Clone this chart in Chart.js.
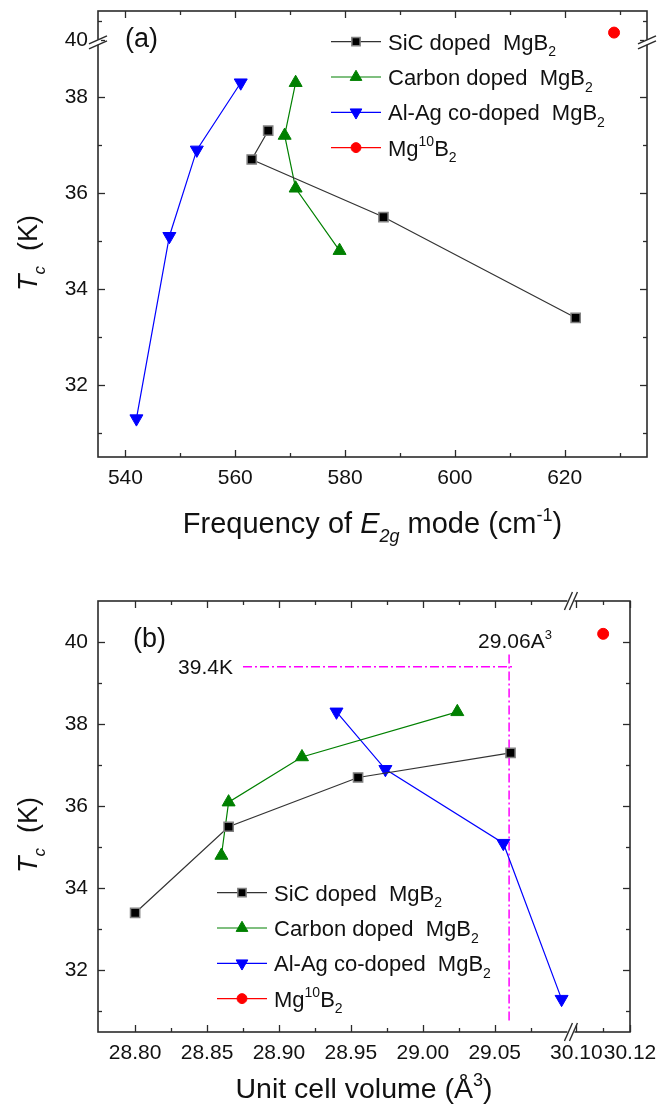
<!DOCTYPE html>
<html>
<head>
<meta charset="utf-8">
<script src="https://cdn.jsdelivr.net/npm/chart.js@4.4.1/dist/chart.umd.min.js"></script>
<style>
  html, body { margin: 0; padding: 0; background: #fff; }
  canvas { display: block; }
</style>
</head>
<body>
<canvas id="panelA" width="669" height="560"></canvas>
<canvas id="panelB" width="669" height="547"></canvas>
<script>
// Tc (K) of each sample, shared by both panels
const sicTc = [37.3, 36.7, 35.5, 33.4];
const carbonTc = [38.3, 37.2, 36.1, 34.8];
const alagTc = [38.3, 36.9, 35.1, 31.3];
const mg10Tc = [40.2];

// E2g mode frequency (cm-1)
const sicFreq = [566, 563, 587, 622];
const carbonFreq = [571, 569, 571, 579];
const alagFreq = [561, 553, 548, 542];
const mg10Freq = [629];

// unit cell volume (A^3)
const sicVol = [29.061, 28.955, 28.865, 28.800];
const carbonVol = [29.024, 28.916, 28.865, 28.860];
const alagVol = [28.940, 28.974, 29.056, 29.0965];
const mg10Vol = [30.11];

// dash-dot guides in (b)
const guideTc = 39.4;
const guideVol = 29.06;
const guideVolSpan = [28.875, 29.063];
const guideTcSpan = [30.78, 39.76];

// tick values
const freqTicks = [540, 560, 580, 600, 620];
const freqMinor = [550, 570, 590, 610, 630];
const tcTicksA = [32, 34, 36, 38, 40];
const tcMinorA = [31, 33, 35, 37, 40.5];
const volTicks = [28.80, 28.85, 28.90, 28.95, 29.00, 29.05, 30.10, 30.12];
const volMinor = [28.825, 28.875, 28.925, 28.975, 29.025, 29.075, 30.11];
const tcTicksB = [32, 34, 36, 38, 40];
const tcMinorB = [31, 33, 35, 37, 39];

const FONT = '"Liberation Sans", Arial, sans-serif';
const INK = '#111';
const FRAME = '#2b2b2b';

const series = [
  { name: [{ t: 'SiC doped  MgB' }, { t: '2', sub: 1 }], tc: sicTc,
    line: '#333', fill: '#000', edge: '#808080', edgeW: 1.5, shape: 'rect', rot: 0, r: 6.5 },
  { name: [{ t: 'Carbon doped  MgB' }, { t: '2', sub: 1 }], tc: carbonTc,
    line: '#008000', fill: '#008000', edge: '#008000', edgeW: 1, shape: 'triangle', rot: 0, r: 7.5 },
  { name: [{ t: 'Al-Ag co-doped  MgB' }, { t: '2', sub: 1 }], tc: alagTc,
    line: '#0000ff', fill: '#0000ff', edge: '#0000ff', edgeW: 1, shape: 'triangle', rot: 180, r: 7.5 },
  { name: [{ t: 'Mg' }, { t: '10', sup: 1 }, { t: 'B' }, { t: '2', sub: 1 }], tc: mg10Tc,
    line: '#ff0000', fill: '#ff0000', edge: '#ff0000', edgeW: 1, shape: 'circle', rot: 0, r: 5.5 }
];

// linear scale with one gap ("//") in it
class BrokenScale extends Chart.LinearScale {
  frac(v) {
    const o = this.options;
    if (v <= o.breakLow) return (v - this.min) / (o.breakLow - this.min) * o.splitLow;
    if (v >= o.breakHigh) return o.splitHigh + (v - o.breakHigh) / (this.max - o.breakHigh) * (1 - o.splitHigh);
    return (o.splitLow + o.splitHigh) / 2;
  }
  getPixelForValue(v) {
    const f = this.frac(v);
    return this.isHorizontal() ? this.left + f * this.width : this.bottom - f * this.height;
  }
  getValueForPixel(p) {
    const o = this.options;
    const f = this.isHorizontal() ? (p - this.left) / this.width : (this.bottom - p) / this.height;
    if (f <= o.splitLow) return this.min + f / o.splitLow * (o.breakLow - this.min);
    return o.breakHigh + (f - o.splitHigh) / (1 - o.splitHigh) * (this.max - o.breakHigh);
  }
  breakPixel() {
    const o = this.options;
    const f = (o.splitLow + o.splitHigh) / 2;
    return this.isHorizontal() ? this.left + f * this.width : this.bottom - f * this.height;
  }
}
BrokenScale.id = 'broken';
BrokenScale.defaults = Chart.LinearScale.defaults;
Chart.register(BrokenScale);

function fontFor(p, size) {
  const s = (p.sub || p.sup) ? Math.round(size * 0.62) : size;
  return (p.i ? 'italic ' : '') + s + 'px ' + FONT;
}

// text with sub/superscripts, y is the baseline
function drawRich(ctx, parts, x, y, size, align) {
  let total = 0;
  parts.forEach(p => { ctx.font = fontFor(p, size); total += ctx.measureText(p.t).width; });
  let cx = align === 'center' ? x - total / 2 : align === 'right' ? x - total : x;
  ctx.textAlign = 'left';
  ctx.textBaseline = 'alphabetic';
  parts.forEach(p => {
    ctx.font = fontFor(p, size);
    const dy = p.sub ? size * 0.3 : p.sup ? -size * 0.42 : 0;
    ctx.fillText(p.t, cx, y + dy);
    cx += ctx.measureText(p.t).width;
  });
}

function line(ctx, x1, y1, x2, y2) {
  ctx.beginPath(); ctx.moveTo(x1, y1); ctx.lineTo(x2, y2); ctx.stroke();
}

function drawTicks(ctx, scale, values, len, a) {
  values.forEach(v => {
    const p = Math.round(scale.getPixelForValue(v)) + 0.5;
    if (scale.isHorizontal()) {
      line(ctx, p, a.bottom, p, a.bottom - len);
      line(ctx, p, a.top, p, a.top + len);
    } else {
      line(ctx, a.left, p, a.left + len, p);
      line(ctx, a.right, p, a.right - len, p);
    }
  });
}

// "//" marks where an axis is broken
function drawBreak(ctx, x, y, vertical) {
  const g = 5;
  ctx.save();
  ctx.fillStyle = '#fff';
  if (vertical) {
    ctx.fillRect(x - 3, y - g / 2, 6, g);
    line(ctx, x - 9, y + g / 2 + 4, x + 9, y + g / 2 - 4);
    line(ctx, x - 9, y - g / 2 + 4, x + 9, y - g / 2 - 4);
  } else {
    ctx.fillRect(x - g / 2 - 1, y - 3, g + 2, 6);
    line(ctx, x - g / 2 - 4, y + 9, x - g / 2 + 4, y - 9);
    line(ctx, x + g / 2 - 4, y + 9, x + g / 2 + 4, y - 9);
  }
  ctx.restore();
}

function drawLegend(ctx, x0, y0, step) {
  series.forEach((s, k) => {
    const y = y0 + k * step;
    ctx.strokeStyle = s.line;
    ctx.lineWidth = 1.2;
    line(ctx, x0, y, x0 + 50, y);
    ctx.fillStyle = s.fill;
    ctx.strokeStyle = s.edge;
    ctx.lineWidth = s.edgeW;
    Chart.helpers.drawPoint(ctx, { pointStyle: s.shape, rotation: s.rot, radius: s.r * 0.9, borderWidth: s.edgeW }, x0 + 25, y);
    ctx.fillStyle = INK;
    drawRich(ctx, s.name, x0 + 57, y + 8, 22, 'left');
  });
}

function makePanel(id, p) {
  const datasets = series.map((s, k) => ({
    label: s.name.map(q => q.t).join(''),
    data: p.xs[k].map((x, i) => ({ x: x, y: s.tc[i] })),
    showLine: true,
    borderColor: s.line,
    borderWidth: 1.2,
    pointStyle: s.shape,
    pointRotation: s.rot,
    pointRadius: s.r,
    pointBackgroundColor: s.fill,
    pointBorderColor: s.edge,
    pointBorderWidth: s.edgeW
  })).concat(p.extra || []);

  const tickFont = { family: FONT, size: 21 };
  const decor = {
    id: 'decor',
    afterDraw(chart) {
      const ctx = chart.ctx;
      const a = chart.chartArea;
      const xs = chart.scales.x, ys = chart.scales.y;
      ctx.save();
      ctx.strokeStyle = FRAME;
      ctx.lineWidth = 1.6;
      ctx.strokeRect(a.left, a.top, a.right - a.left, a.bottom - a.top);
      ctx.lineWidth = 1.3;
      drawTicks(ctx, xs, p.xTicks, 7, a);
      drawTicks(ctx, xs, p.xMinor, 4, a);
      drawTicks(ctx, ys, p.yTicks, 7, a);
      drawTicks(ctx, ys, p.yMinor, 4, a);
      ctx.lineWidth = 1.4;
      if (ys.breakPixel) {
        drawBreak(ctx, a.left, ys.breakPixel(), true);
        drawBreak(ctx, a.right, ys.breakPixel(), true);
      }
      if (xs.breakPixel) {
        drawBreak(ctx, xs.breakPixel(), a.top, false);
        drawBreak(ctx, xs.breakPixel(), a.bottom, false);
      }
      ctx.fillStyle = INK;
      ctx.font = '27px ' + FONT;
      ctx.textAlign = 'left';
      ctx.textBaseline = 'middle';
      ctx.fillText(p.tag, p.tagPos[0], p.tagPos[1]);
      drawRich(ctx, p.xTitle, (a.left + a.right) / 2, p.xTitleY, p.xTitleSize, 'center');
      ctx.save();
      ctx.translate(37, p.yTitleY);
      ctx.rotate(-Math.PI / 2);
      drawRich(ctx, [{ t: 'T', i: 1 }, { t: 'c', i: 1, sub: 1 }, { t: '  (K)' }], 0, 0, 27, 'center');
      ctx.restore();
      drawLegend(ctx, p.legend[0], p.legend[1], 35.3);
      if (p.notes) p.notes(ctx, xs, ys);
      ctx.restore();
    }
  };

  return new Chart(document.getElementById(id), {
    type: 'scatter',
    data: { datasets: datasets },
    options: {
      responsive: false,
      devicePixelRatio: 1,
      animation: false,
      events: [],
      layout: { padding: p.padding },
      plugins: { legend: { display: false }, tooltip: { enabled: false } },
      scales: {
        x: Object.assign({
          bounds: 'data',
          grid: { display: false, drawTicks: false },
          border: { display: false },
          afterFit: s => { s.height = p.xHeight; s.paddingLeft = 0; s.paddingRight = 0; },
          afterBuildTicks: s => { s.ticks = p.xTicks.map(v => ({ value: v })); },
          ticks: { autoSkip: false, maxRotation: 0, padding: 9, color: INK, font: tickFont, callback: p.xFormat }
        }, p.xScale),
        y: Object.assign({
          bounds: 'data',
          grid: { display: false, drawTicks: false },
          border: { display: false },
          afterFit: s => { s.width = 98; s.paddingTop = 0; s.paddingBottom = 0; },
          afterBuildTicks: s => { s.ticks = p.yTicks.map(v => ({ value: v })); },
          ticks: { autoSkip: false, padding: 10, color: INK, font: tickFont, callback: v => String(v) }
        }, p.yScale)
      }
    },
    plugins: [decor]
  });
}

// (a) Tc against E2g frequency
makePanel('panelA', {
  xs: [sicFreq, carbonFreq, alagFreq, mg10Freq],
  xScale: { type: 'linear', min: 535, max: 635 },
  yScale: { type: 'broken', min: 30.5, max: 40.76, breakLow: 39.1, breakHigh: 40, splitLow: 0.9253, splitHigh: 0.9343 },
  xTicks: freqTicks, xMinor: freqMinor, yTicks: tcTicksA, yMinor: tcMinorA,
  xFormat: v => String(v),
  padding: { left: 0, right: 22, top: 11, bottom: 0 },
  xHeight: 103,
  tag: '(a)', tagPos: [125, 40],
  xTitle: [{ t: 'Frequency of ' }, { t: 'E', i: 1 }, { t: '2g', i: 1, sub: 1 }, { t: ' mode (cm' }, { t: '-1', sup: 1 }, { t: ')' }],
  xTitleY: 533, xTitleSize: 29,
  yTitleY: 253,
  legend: [331, 41.7]
});

// (b) Tc against unit cell volume
makePanel('panelB', {
  xs: [sicVol, carbonVol, alagVol, mg10Vol],
  xScale: { type: 'broken', min: 28.7742, max: 30.12, breakLow: 29.103, breakHigh: 30.098, splitLow: 0.889, splitHigh: 0.889 },
  yScale: { type: 'linear', min: 30.5, max: 41 },
  xTicks: volTicks, xMinor: volMinor, yTicks: tcTicksB, yMinor: tcMinorB,
  xFormat: v => v.toFixed(2),
  padding: { left: 0, right: 39, top: 41, bottom: 0 },
  xHeight: 75,
  tag: '(b)', tagPos: [133, 80],
  xTitle: [{ t: 'Unit cell volume (Å' }, { t: '3', sup: 1 }, { t: ')' }],
  xTitleY: 538, xTitleSize: 28.5,
  yTitleY: 275,
  legend: [217, 332.7],
  extra: [
    { data: [{ x: guideVolSpan[0], y: guideTc }, { x: guideVolSpan[1], y: guideTc }],
      showLine: true, borderColor: '#ff00ff', borderWidth: 1.5, borderDash: [9, 3, 2, 3], pointRadius: 0 },
    { data: [{ x: guideVol, y: guideTcSpan[0] }, { x: guideVol, y: guideTcSpan[1] }],
      showLine: true, borderColor: '#ff00ff', borderWidth: 1.5, borderDash: [9, 3, 2, 3], pointRadius: 0 }
  ],
  notes: (ctx, xs, ys) => {
    ctx.fillStyle = INK;
    drawRich(ctx, [{ t: guideTc + 'K' }], xs.getPixelForValue(guideVolSpan[0]) - 10, ys.getPixelForValue(guideTc) + 7.5, 21, 'right');
    drawRich(ctx, [{ t: guideVol.toFixed(2) + 'A' }, { t: '3', sup: 1 }], xs.getPixelForValue(guideVol) - 31, ys.getPixelForValue(guideTcSpan[1]) - 4, 21, 'left');
  }
});
</script>
</body>
</html>
